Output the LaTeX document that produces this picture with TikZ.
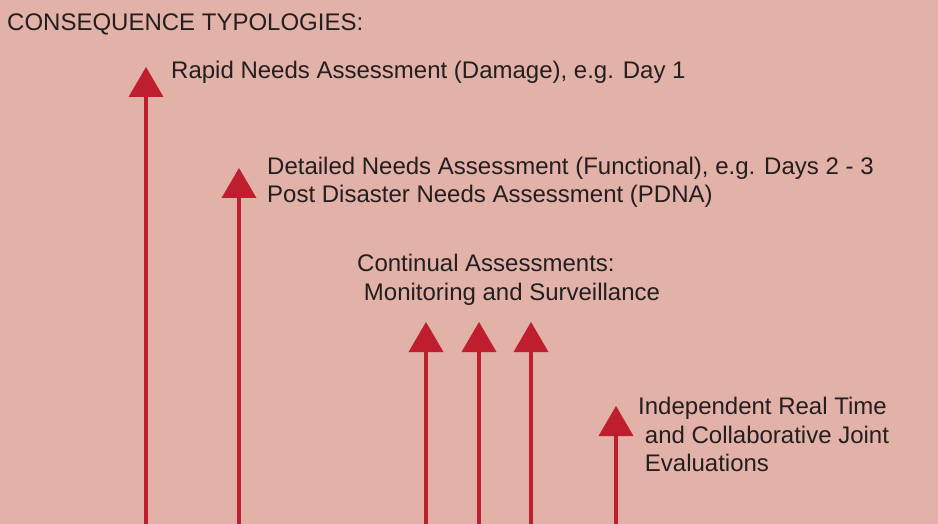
\documentclass[tikz,border=0pt]{standalone}
\usepackage{xcolor}
\usepackage{fontspec}
\setmainfont{Liberation Sans}
\usetikzlibrary{arrows.meta}

\definecolor{bgpink}{RGB}{226,177,168}
\definecolor{arrowred}{RGB}{190,30,45}
\definecolor{textdark}{RGB}{35,31,32}

\begin{document}
\begin{tikzpicture}[
  x=1pt, y=-1pt,
  every node/.style={inner sep=0pt, anchor=base west, align=left, text=textdark,
    font=\fontsize{24}{28.5}\selectfont},
  uparrow/.style={draw=arrowred, line width=4.5pt,
    -{Triangle[width=35pt,length=30pt,line width=0pt]}}
]
  \fill[bgpink] (0,0) rectangle (938,524);
  \useasboundingbox (0,0) rectangle (938,524);

  % labels (base = baseline of the last line)
  \node (title) at (7,31) {CONSEQUENCE TYPOLOGIES:};
  \node (rapid) at (171,79) {Rapid Needs Assessment (Damage), e.g. Day 1};
  \node (detailed) at (267,203) {Detailed Needs Assessment (Functional), e.g. Days 2 - 3\\
    Post Disaster Needs Assessment (PDNA)};
  \node (continual) at (357,300) {Continual Assessments:\\
    \hspace*{0.28em}Monitoring and Surveillance};
  \node (independent) at (638,471.5) {Independent Real Time\\
    \hspace*{0.28em}and Collaborative Joint\\
    \hspace*{0.28em}Evaluations};

  % arrows
  \foreach \x/\tip [count=\i] in {146/67, 239/168, 426/322, 479/322, 531/322, 616/406} {
    \coordinate (foot\i) at (\x,524);
    \coordinate (head\i) at (\x,\tip);
    \draw[uparrow] (foot\i) -- (head\i);
  }
\end{tikzpicture}
\end{document}
